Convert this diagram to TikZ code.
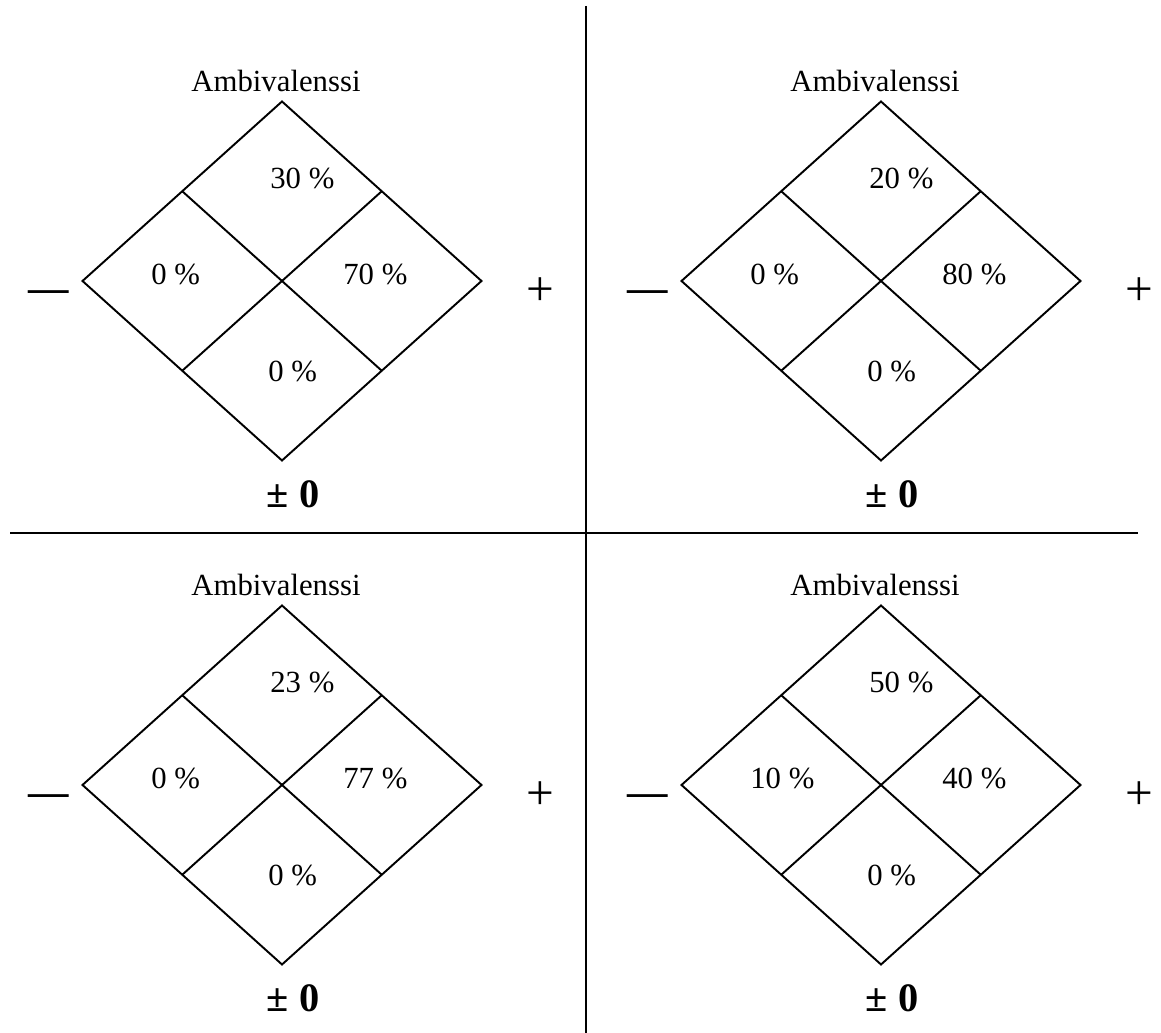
\documentclass[tikz,border=0pt]{standalone}
\usepackage{fontspec}
\setmainfont{Liberation Serif}
\usepackage{tikz}

\begin{document}
\begin{tikzpicture}[
            x=0.02cm, y=-0.02cm, % one unit = one pixel of the layout
            frame/.style={line width=1.1pt, draw=black, line join=miter},
            divider/.style={line width=1.1pt, draw=black},
            title/.style={anchor=base, inner sep=0pt, font=\fontsize{17.5}{20}\selectfont},
            cell/.style={anchor=base west, inner sep=0pt, font=\fontsize{17.5}{20}\selectfont},
            neutral/.style={anchor=base, inner sep=0pt, font=\fontsize{23}{26}\selectfont\bfseries},
            plussign/.style={inner sep=0pt, font=\fontsize{28}{32}\selectfont},
            minussign/.style={anchor=base, inner sep=0pt, font=\fontsize{23}{26}\selectfont\bfseries}
        ]
        \useasboundingbox (0,0) rectangle (1161,1033);
        
        % Dividers between the four panels
        \draw[divider] (586,6) -- (586,1033);
        \draw[divider] (10,533) -- (1138,533);
        
        % Panels: name / centre / top / left / right / bottom
        \foreach \n/\cx/\cy/\vt/\vl/\vr/\vb in {
            tl/282/281/30/0/70/0,
            tr/881/281/20/0/80/0,
            bl/282/785/23/0/77/0,
            br/881/785/50/10/40/0} {
            \begin{scope}[shift={(\cx,\cy)}]
                % Diamond and its two inner lines
                \draw[frame] (0,-179.5) -- (199.5,0) -- (0,179.5) -- (-199.5,0) -- cycle;
                \draw[frame] (-99.75,-89.75) -- (99.75,89.75);
                \draw[frame] (99.75,-89.75) -- (-99.75,89.75);
                
                % Labels round the diamond
                \node[title] (\n-title) at (-6,-189) {Ambivalenssi};
                \node[minussign] (\n-minus) at (-233,21) {—};
                \node[plussign] (\n-plus) at (258,11) {+};
                \node[neutral] (\n-zero) at (11,227) {± 0};
                
                % Shares in the four cells
                \node[cell] (\n-top) at (-12,-92) {\vt\ \%};
                \node[cell] (\n-left) at (-131,4) {\vl\ \%};
                \node[cell] (\n-right) at (61,4) {\vr\ \%};
                \node[cell] (\n-bottom) at (-14,101) {\vb\ \%};
            \end{scope}
        }
        
        \end{tikzpicture}
\end{document}
